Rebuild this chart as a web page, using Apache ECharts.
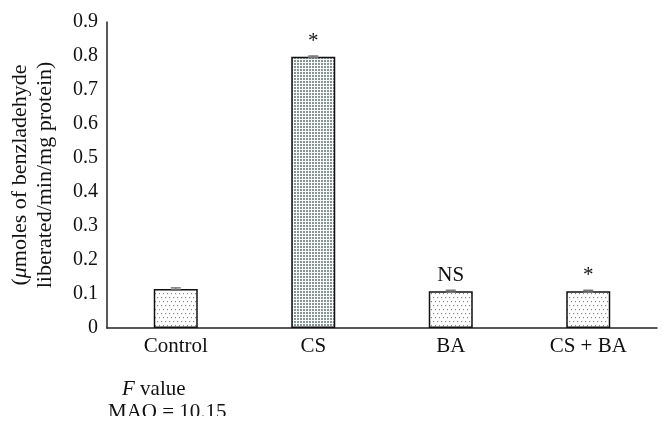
<!DOCTYPE html>
<html><head><meta charset="utf-8">
<script src="https://cdn.jsdelivr.net/npm/echarts@6/dist/echarts.min.js"></script>
<style>html,body{margin:0;padding:0;background:#fff}#c{width:670px;height:430px}</style>
</head><body><div id="c"></div>
<script>
var categories = ['Control', 'CS', 'BA', 'CS + BA'];
var values = [0.115, 0.798, 0.108, 0.108];
var errors = [0.003, 0.002, 0.003, 0.003];
var sigLabels = ['', '*', 'NS', '*'];
var yTicks = [0, 0.1, 0.2, 0.3, 0.4, 0.5, 0.6, 0.7, 0.8, 0.9];

var FONT = '"Liberation Serif", "DejaVu Serif", serif';

function dotPattern() {
  var c = document.createElement('canvas'); c.width = 4; c.height = 8;
  var g = c.getContext('2d');
  g.fillStyle = '#fff'; g.fillRect(0, 0, 4, 8);
  g.fillStyle = '#888';
  g.fillRect(1, 1, 1.2, 1.2); g.fillRect(3, 5, 1.2, 1.2);
  return c;
}
function gridPattern() {
  var c = document.createElement('canvas'); c.width = 3; c.height = 3;
  var g = c.getContext('2d');
  g.fillStyle = '#fafbfb'; g.fillRect(0, 0, 3, 3);
  g.fillStyle = '#869494'; g.fillRect(0, 0, 2, 2);
  return c;
}
var dotImg = dotPattern(), gridImg = gridPattern();

var chart = echarts.init(document.getElementById('c'), null, {renderer: 'canvas'});
chart.setOption({
  animation: false,
  grid: {left: 106, right: 13, top: 22, bottom: 102},
  xAxis: {
    type: 'category', data: categories,
    axisTick: {show: false},
    axisLine: {lineStyle: {color: '#222', width: 1.5}},
    axisLabel: {color: '#111', fontFamily: FONT, fontSize: 21, margin: 8}
  },
  yAxis: {
    type: 'value', min: 0, max: 0.9, interval: 0.1,
    splitLine: {show: false},
    axisTick: {show: false},
    axisLine: {show: true, lineStyle: {color: '#222', width: 1.5}},
    axisLabel: {color: '#111', fontFamily: FONT, fontSize: 20, margin: 9,
      formatter: function (v) { var i = yTicks.findIndex(function (t) { return Math.abs(t - v) < 1e-9; }); return i === 0 ? '0' : yTicks[i].toFixed(1); }},
    name: '({i|μ}moles of benzladehyde\nliberated/min/mg protein)',
    nameLocation: 'middle', nameRotate: 90, nameGap: 49,
    nameTextStyle: {color: '#111', fontFamily: FONT, fontSize: 22, lineHeight: 25,
      rich: {i: {fontStyle: 'italic', fontFamily: FONT, fontSize: 22, color: '#111'}}}
  },
  series: [{
    type: 'bar', barWidth: '32%',
    data: values.map(function (v, i) {
      return {value: v, itemStyle: {color: {image: i === 1 ? gridImg : dotImg, repeat: 'repeat'}}};
    }),
    itemStyle: {borderColor: '#111', borderWidth: 1.5},
    label: {show: true, position: 'top', distance: 5, color: '#111', fontFamily: FONT, fontSize: 21,
      formatter: function (p) { return sigLabels[p.dataIndex]; }}
  }, {
    type: 'custom', z: 5,
    data: values.map(function (v, i) { return [i, v, errors[i]]; }),
    renderItem: function (params, api) {
      var x = api.value(0), v = api.value(1), e = api.value(2);
      var lo = api.coord([x, v - e]), hi = api.coord([x, v + e]);
      var w = 10;
      var st = {stroke: '#777', lineWidth: 1.5};
      return {type: 'group', children: [
        {type: 'line', shape: {x1: lo[0], y1: lo[1], x2: hi[0], y2: hi[1]}, style: st},
        {type: 'line', shape: {x1: hi[0] - w / 2, y1: hi[1], x2: hi[0] + w / 2, y2: hi[1]}, style: st},
        {type: 'line', shape: {x1: lo[0] - w / 2, y1: lo[1], x2: lo[0] + w / 2, y2: lo[1]}, style: st}
      ]};
    }
  }],
  graphic: [
    {type: 'text', left: 122, top: 379, style: {text: '{i|F} value', font: '21px ' + FONT, fill: '#111',
      rich: {i: {fontStyle: 'italic', fontFamily: FONT, fontSize: 21, fill: '#111'}}}},
    {type: 'text', left: 108, top: 402, style: {text: 'MAO = 10.15', font: '21px ' + FONT, fill: '#111'}},
    {type: 'rect', left: 0, top: 416, z: 100, shape: {width: 670, height: 14}, style: {fill: '#fff'}}
  ]
});
</script></body></html>
